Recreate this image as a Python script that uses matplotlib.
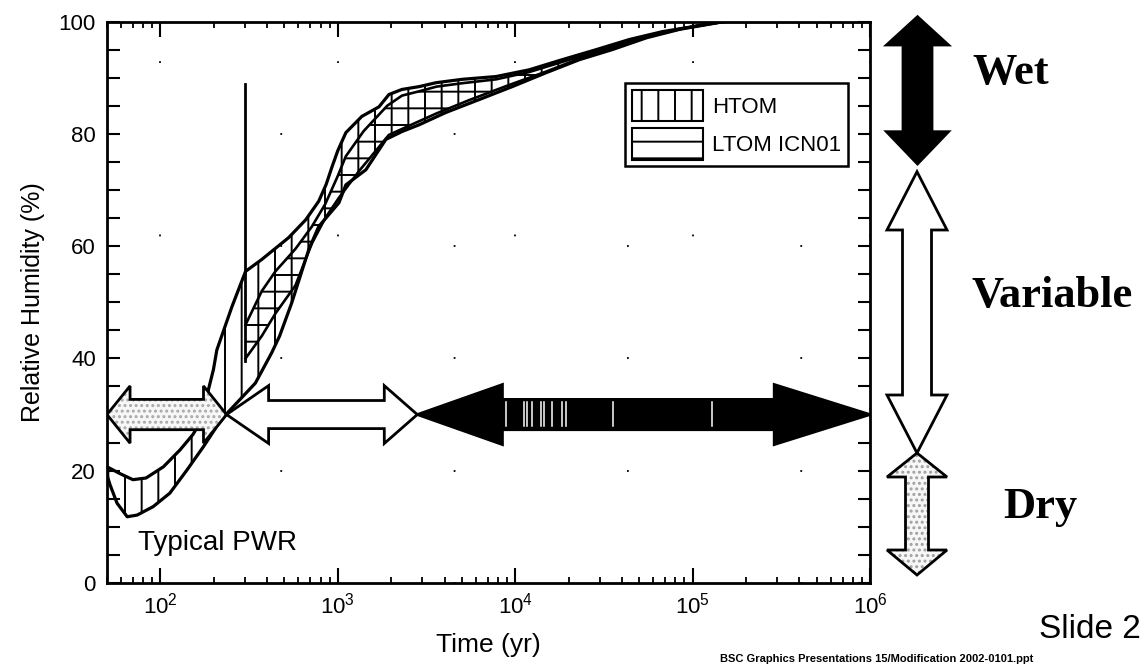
import numpy as np
import matplotlib
matplotlib.use('Agg')
import matplotlib.pyplot as plt
from matplotlib.patches import Polygon, Patch
from matplotlib.ticker import MultipleLocator, LogLocator, NullFormatter

# ---------------- data ----------------
htom_upper_x = [50, 59, 70, 83, 104, 129, 153, 170, 185, 199, 208, 253, 302, 372, 528, 660, 781, 860, 925,
                1000, 1110, 1366, 1706, 1942, 2300, 2870, 3580, 5020, 7810, 12000, 18400, 28700, 44100,
                67700, 151000, 1000000]
htom_upper_y = [20.7, 19.5, 18.4, 18.7, 20.7, 23.7, 26.5, 29.0, 34.0, 38.0, 41.5, 49.2, 55.5, 57.6, 61.5,
                64.7, 68.0, 71.0, 74.0, 77.0, 80.2, 83.1, 84.8, 87.0, 87.9, 88.4, 89.1, 89.7, 90.2, 91.4,
                93.2, 95.0, 96.8, 98.2, 100, 100]
htom_lower_x = [50, 52, 57, 65, 74, 91, 113, 141, 175, 208, 237, 343, 424, 470, 550, 686, 781, 1014, 1110,
                1440, 1866, 2300, 2870, 4070, 6270, 9620, 15000, 23000, 35300, 55000, 84500, 151000, 1000000]
htom_lower_y = [19.2, 17.5, 14.2, 11.8, 12.1, 13.6, 16.0, 20.1, 24.3, 27.9, 30.2, 35.6, 41.0, 44.0, 49.9,
                59.4, 63.5, 67.7, 70.9, 73.6, 79.0, 80.4, 81.6, 83.8, 86.1, 88.4, 90.9, 93.2, 95.0, 97.1,
                98.6, 100, 100]
ltom_upper_x = [302, 373, 445, 577, 715, 850, 1000, 1110, 1400, 1900, 2300, 2900, 3600, 5000, 7800, 12000,
                18400, 28700, 44100, 67700, 120000, 160000, 1000000]
ltom_upper_y = [46, 52, 55.5, 59.5, 63.5, 67.5, 72.5, 76, 80.5, 85, 86.8, 87.6, 88.4, 89, 89.7, 91, 92.8,
                94.7, 96.5, 98, 99.6, 100, 100]
ltom_lower_x = [302, 373, 445, 577, 715, 850, 1014, 1320, 1640, 1940, 2430, 3580, 5500, 8900, 15000, 23000,
                35300, 55000, 84500, 150000, 1000000]
ltom_lower_y = [40, 44, 48, 53, 60.5, 65, 68.6, 73.4, 77.0, 79.8, 81.2, 83.6, 86.0, 88.5, 91.1, 93.4, 95.2,
                97.2, 98.7, 100, 100]

marker_line_x = 300
marker_line_y = [39.5, 88.8]

# period arrows at RH = 30 %
period_y = 30
stipple_period = [50, 236]
white_period = [236, 2806]
black_period = [2806, 1000000]
scan_streaks_x = [8900, 11200, 11700, 12500, 14000, 14600, 16200, 18400, 19400, 35800, 128000]

legend_labels = ['HTOM', 'LTOM ICN01']
y_ticks = [0, 20, 40, 60, 80, 100]

# ---------------- styling ----------------
plt.rcParams['font.family'] = ['Liberation Sans', 'DejaVu Sans']
plt.rcParams['mathtext.fontset'] = 'custom'
plt.rcParams['mathtext.rm'] = 'Liberation Sans'
plt.rcParams['mathtext.it'] = 'Liberation Sans:italic'
plt.rcParams['mathtext.bf'] = 'Liberation Sans:bold'
plt.rcParams['hatch.linewidth'] = 1.4

W, H = 1147, 666
fig = plt.figure(figsize=(W / 100, H / 100), dpi=100)
ax = fig.add_axes([107 / W, 1 - 583 / H, (870 - 107) / W, (583 - 21.5) / H])
ax.set_xscale('log')
ax.set_xlim(50, 1e6)
ax.set_ylim(0, 100)

# bands
hx = np.r_[htom_upper_x, htom_lower_x[::-1]]
hy = np.r_[htom_upper_y, htom_lower_y[::-1]]
ax.fill(hx, hy, facecolor='none', edgecolor='black', hatch='|', linewidth=0, zorder=2)
lx = np.r_[ltom_upper_x, ltom_lower_x[::-1]]
ly = np.r_[ltom_upper_y, ltom_lower_y[::-1]]
ax.fill(lx, ly, facecolor='none', edgecolor='black', hatch='-', linewidth=0, zorder=2)

for xs, ys, lw in [(htom_upper_x, htom_upper_y, 2.3), (htom_lower_x, htom_lower_y, 2.3),
                   (ltom_upper_x, ltom_upper_y, 1.9), (ltom_lower_x, ltom_lower_y, 1.9)]:
    ax.plot(xs, ys, color='black', lw=lw, zorder=3, solid_joinstyle='round')

ax.plot([marker_line_x, marker_line_x], marker_line_y, color='black', lw=2, zorder=3)


def harrow(x0, x1, yc, shaft, head, hl_l, hl_r):
    l0, l1 = np.log10(x0), np.log10(x1)
    pts = [(l0, yc), (l0 + hl_l, yc + head), (l0 + hl_l, yc + shaft), (l1 - hl_r, yc + shaft),
           (l1 - hl_r, yc + head), (l1, yc), (l1 - hl_r, yc - head), (l1 - hl_r, yc - shaft),
           (l0 + hl_l, yc - shaft), (l0 + hl_l, yc - head)]
    return [(10 ** a, b) for a, b in pts]


# stippled arrow
p = harrow(stipple_period[0], stipple_period[1], period_y, 2.7, 5.1, 0.13, 0.13)
ax.add_patch(Polygon(p, closed=True, facecolor='#f7f7f7', edgecolor='#a8a8a8', hatch='...', lw=0, zorder=5))
ax.add_patch(Polygon(p, closed=True, fill=False, edgecolor='black', lw=2, zorder=6, joinstyle='miter'))
# white arrow
p = harrow(white_period[0], white_period[1], period_y, 2.5, 5.15, 0.237, 0.186)
ax.add_patch(Polygon(p, closed=True, facecolor='white', edgecolor='black', lw=2, zorder=6, joinstyle='miter'))
# black arrow
p = harrow(black_period[0], black_period[1], period_y, 2.7, 5.35, 0.48, 0.54)
ax.add_patch(Polygon(p, closed=True, facecolor='black', edgecolor='black', lw=2, zorder=6, joinstyle='miter'))
for sx in scan_streaks_x:
    ax.plot([sx, sx], [period_y - 2.0, period_y + 2.2], color='white', lw=1.1, zorder=7)

# axes styling
ax.yaxis.set_major_locator(MultipleLocator(20))
ax.yaxis.set_minor_locator(MultipleLocator(5))
ax.set_yticks(y_ticks)
ax.xaxis.set_minor_locator(LogLocator(base=10, subs=np.arange(2, 10), numticks=30))
ax.xaxis.set_minor_formatter(NullFormatter())
ax.tick_params(axis='both', which='both', direction='in', top=True, right=True)
ax.tick_params(axis='x', which='major', length=11, width=1.5, labelsize=16, pad=7)
ax.tick_params(axis='x', which='minor', length=4.5, width=1.3)
ax.tick_params(axis='y', which='both', length=9, width=1.5, labelsize=16, pad=8)
for s in ax.spines.values():
    s.set_linewidth(2)
ax.set_axisbelow(True)
ax.grid(True, which='major', color='black', lw=1.3, linestyle=(0, (1, 95)))

ax.set_ylabel('Relative Humidity (%)', fontsize=18, labelpad=10)
ax.set_xlabel('Time (yr)', fontsize=19, labelpad=10)

ax.text(75, 5.9, 'Typical PWR', fontsize=20, ha='left', va='baseline', zorder=8)

handles = [Patch(facecolor='white', edgecolor='black', hatch='|', lw=1.5),
           Patch(facecolor='white', edgecolor='black', hatch='-', lw=1.5)]
leg = ax.legend(handles, legend_labels, loc='upper right', bbox_to_anchor=(0.971, 0.8905),
                borderaxespad=0, fontsize=16, handlelength=3.2, handleheight=1.8, borderpad=0.3,
                labelspacing=0.32, handletextpad=0.4, fancybox=False, framealpha=1, edgecolor='black')
leg.get_frame().set_linewidth(1.8)
leg.set_zorder(10)

# ---------------- right-hand side scale ----------------
ov = fig.add_axes([0, 0, 1, 1])
ov.set_xlim(0, W)
ov.set_ylim(H, 0)
ov.axis('off')
ov.patch.set_alpha(0)


def varrow(xc, yt, yb, hh, sh, hlt, hlb):
    return [(xc, yt), (xc + hh, yt + hlt), (xc + sh, yt + hlt), (xc + sh, yb - hlb), (xc + hh, yb - hlb),
            (xc, yb), (xc - hh, yb - hlb), (xc - sh, yb - hlb), (xc - sh, yt + hlt), (xc - hh, yt + hlt)]


ov.add_patch(Polygon(varrow(917.5, 16.7, 164, 31, 14.5, 28.3, 32.3), closed=True,
                     facecolor='black', edgecolor='black', lw=2, joinstyle='miter'))
ov.add_patch(Polygon(varrow(917, 171.7, 453, 30, 14.5, 58.3, 58), closed=True,
                     facecolor='white', edgecolor='black', lw=2, joinstyle='miter'))
pd = varrow(917, 453, 575, 30, 11.5, 24, 25)
ov.add_patch(Polygon(pd, closed=True, facecolor='#f7f7f7', edgecolor='#a0a0a0', hatch='...', lw=0))
ov.add_patch(Polygon(pd, closed=True, fill=False, edgecolor='black', lw=2, joinstyle='miter'))

serif = dict(family='Liberation Serif', fontweight='bold', fontsize=32, ha='left', va='baseline')
fig.text(972 / W, 1 - 84 / H, 'Wet', **serif)
fig.text(972 / W, 1 - 307 / H, 'Variable', **serif)
fig.text(1003 / W, 1 - 518 / H, 'Dry', **serif)

fig.text(1141 / W, 1 - 638 / H, 'Slide 2', fontsize=24, ha='right', va='baseline')
fig.text(720 / W, 1 - 664 / H, 'BSC Graphics Presentations 15/Modification 2002-0101.ppt',
         fontsize=8, fontweight='bold', ha='left', va='bottom')

fig.savefig('out.png', dpi=100)
